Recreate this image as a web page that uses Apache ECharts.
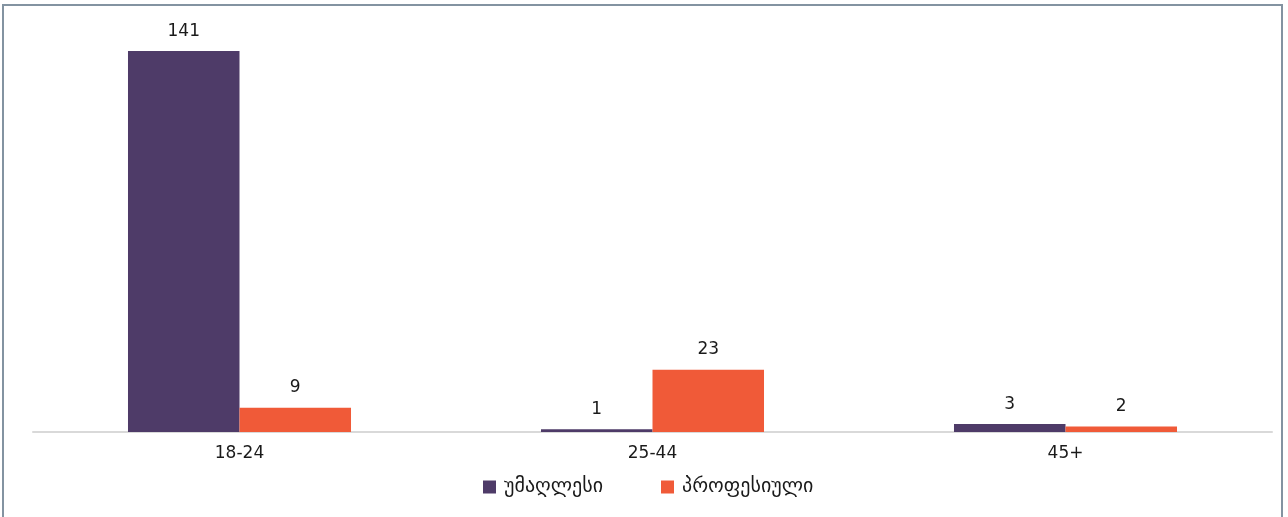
<!DOCTYPE html>
<html><head><meta charset="utf-8">
<script src="https://cdn.jsdelivr.net/npm/echarts@6/dist/echarts.min.js"></script>
<style>
html,body{margin:0;padding:0;background:#fff;overflow:hidden}
#frame{position:absolute;left:2px;top:4px;width:1281px;height:520px;border:2px solid #8393a1;box-sizing:border-box}
#chart{position:absolute;left:0;top:0;width:1288px;height:517px}
</style></head><body>
<div id="chart"></div>
<div id="frame"></div>
<script>
const categories = ['18-24', '25-44', '45+'];
const seriesNames = ['უმაღლესი', 'პროფესიული'];
const higher = [141, 1, 3];
const vocational = [9, 23, 2];
const colors = ['#4e3b68', '#f05a38'];

const chart = echarts.init(document.getElementById('chart'));
const font = 'DejaVu Sans';
chart.setOption({
  animation: false,
  textStyle: { fontFamily: font },
  color: colors,
  grid: { left: 33, right: 16, top: 51, bottom: 85 },
  legend: {
    bottom: 15, left: 478, itemWidth: 13, itemHeight: 13, itemGap: 58,
    icon: 'rect',
    textStyle: { fontFamily: font, fontSize: 20, color: '#1a1a1a', padding: [0, 0, 0, 3] },
    data: seriesNames
  },
  xAxis: {
    type: 'category', data: categories,
    axisLine: { lineStyle: { color: '#d9d9d9', width: 2 } },
    axisTick: { show: false },
    axisLabel: { fontSize: 17, color: '#1a1a1a', margin: 13, fontFamily: font }
  },
  yAxis: { type: 'value', min: 0, max: 141, show: false, splitLine: { show: false } },
  series: [
    { name: seriesNames[0], type: 'bar', data: higher, barGap: '0%', barCategoryGap: '46%',
      label: { show: true, position: 'top', distance: 11, fontSize: 17, color: '#1a1a1a', fontFamily: font } },
    { name: seriesNames[1], type: 'bar', data: vocational, barGap: '0%', barCategoryGap: '46%',
      label: { show: true, position: 'top', distance: 12, fontSize: 17, color: '#1a1a1a', fontFamily: font } }
  ]
});
</script>
</body></html>
